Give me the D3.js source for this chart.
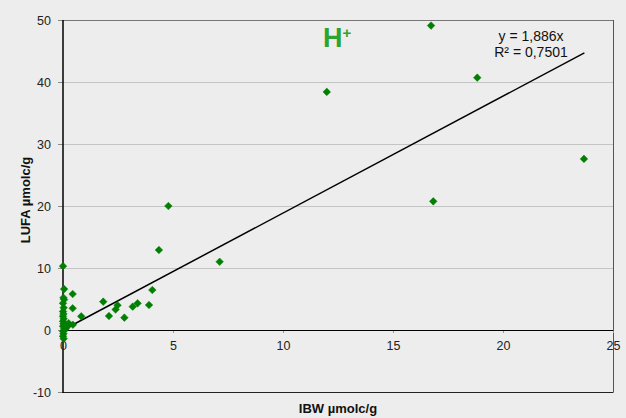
<!DOCTYPE html>
<html>
<head>
<meta charset="utf-8">
<script src="https://cdn.jsdelivr.net/npm/d3@7"></script>
<style>
  html, body { margin: 0; padding: 0; background: #ECEDEC; }
  svg { display: block; font-family: "Liberation Sans", Arial, sans-serif; }
</style>
</head>
<body>
<svg id="chart" width="626" height="418"></svg>
<script>
// ---- data ----
const ibw = [16.73, 18.83, 11.99, 23.68, 16.83, 4.79, 4.36, 7.12, 4.06, 3.91, 3.39, 3.17, 2.79, 2.09, 2.39, 2.48, 1.83, 0.83, 0.44, 0.44, 0.45,
  0.0, 0.05, 0.02, 0.05, 0.0, 0.03, 0.0, 0.02, 0.0, 0.03, 0.0, 0.02, 0.0, 0.05, 0.0, 0.02, 0.0, 0.03,
  0.10, 0.18, 0.26, 0.12];
const lufa = [49.1, 40.7, 38.4, 27.6, 20.75, 20.0, 12.9, 11.0, 6.45, 4.03, 4.3, 3.77, 1.99, 2.26, 3.3, 4.0, 4.57, 2.2, 5.8, 3.5, 0.85,
  10.3, 6.6, 5.2, 4.9, 4.3, 3.6, 3.0, 2.6, 2.2, 1.8, 1.4, 1.0, 0.6, 0.2, -0.2, -0.6, -1.0, -1.4,
  0.1, 0.5, 1.1, 0.3];
const slope = 1.886;
const lineXMax = 23.7;
const xTicks = [0, 5, 10, 15, 20, 25];
const yTicks = [-10, 0, 10, 20, 30, 40, 50];
const equationLines = ["y = 1,886x", "R² = 0,7501"];
const xTitle = "IBW µmolc/g";
const yTitle = "LUFA µmolc/g";

// ---- chart ----
const svg = d3.select("#chart");
const W = 626, H = 418;
const x = d3.scaleLinear().domain([0, 25]).range([63, 613]);
const y = d3.scaleLinear().domain([-10, 50]).range([392, 20]);
const plainFmt = d => String(d);

svg.append("rect").attr("width", W).attr("height", H).attr("fill", "#ECEDEC");

// gridlines
svg.append("g").selectAll("line").data(yTicks.filter(d => d > -10 && d < 50 && d !== 0)).join("line")
  .attr("x1", x(0)).attr("x2", x(25))
  .attr("y1", d => y(d) + 0.5).attr("y2", d => y(d) + 0.5)
  .attr("stroke", "#C4C4C4").attr("stroke-width", 1);

// frame
svg.append("line").attr("x1", x(0)).attr("x2", x(25) + 0.5).attr("y1", y(50) + 0.5).attr("y2", y(50) + 0.5)
  .attr("stroke", "#777").attr("stroke-width", 1);
svg.append("line").attr("x1", x(25) + 0.5).attr("x2", x(25) + 0.5).attr("y1", y(50)).attr("y2", y(-10))
  .attr("stroke", "#555").attr("stroke-width", 1);
svg.append("line").attr("x1", x(0)).attr("x2", x(25) + 0.5).attr("y1", y(-10) + 0.5).attr("y2", y(-10) + 0.5)
  .attr("stroke", "#222").attr("stroke-width", 1);

// y axis
const yAxis = d3.axisLeft(y).tickValues(yTicks).tickSize(5).tickPadding(7).tickFormat(plainFmt);
const gy = svg.append("g").attr("transform", `translate(${x(0)},0)`).call(yAxis);
gy.select(".domain").remove();
gy.selectAll(".tick line").attr("stroke", "#888");
gy.selectAll(".tick text").attr("font-size", 12.5).attr("fill", "#222")
  .attr("font-family", "Liberation Sans, Arial, sans-serif");
svg.append("line").attr("x1", x(0)).attr("x2", x(0)).attr("y1", y(50)).attr("y2", y(-10) + 1)
  .attr("stroke", "#000").attr("stroke-width", 1.5);

// x axis at y=0
const xAxis = d3.axisBottom(x).tickValues(xTicks).tickSize(3).tickPadding(8).tickFormat(plainFmt);
const gx = svg.append("g").attr("transform", `translate(0,${y(0)})`).call(xAxis);
gx.select(".domain").remove();
gx.selectAll(".tick line").attr("stroke", "#999");
gx.selectAll(".tick text").attr("font-size", 12.5).attr("fill", "#222")
  .attr("font-family", "Liberation Sans, Arial, sans-serif");
svg.append("line").attr("x1", x(0)).attr("x2", x(25) + 0.5).attr("y1", y(0) + 0.5).attr("y2", y(0) + 0.5)
  .attr("stroke", "#000").attr("stroke-width", 1.2);

// trend line
svg.append("line")
  .attr("x1", x(0)).attr("y1", y(0))
  .attr("x2", x(lineXMax)).attr("y2", y(slope * lineXMax))
  .attr("stroke", "#000").attr("stroke-width", 1.5);

// points
const pts = ibw.map((v, i) => ({ x: v, y: lufa[i] }));
svg.append("g").selectAll("path").data(pts).join("path")
  .attr("d", "M0,-3.8L3.8,0L0,3.8L-3.8,0Z")
  .attr("transform", d => `translate(${x(d.x)},${y(d.y)})`)
  .attr("fill", "#008000").attr("stroke", "#0a7a0a").attr("stroke-width", 0.5);

// equation
svg.append("text").attr("x", 531).attr("y", 41).attr("text-anchor", "middle")
  .attr("font-size", 14).attr("fill", "#111").text(equationLines[0]);
svg.append("text").attr("x", 531).attr("y", 57).attr("text-anchor", "middle")
  .attr("font-size", 14).attr("fill", "#111").text(equationLines[1]);

// H+ label
const h = svg.append("text").attr("x", 323).attr("y", 47)
  .attr("font-size", 27).attr("fill", "#2EA32E").attr("font-weight", "bold");
h.append("tspan").text("H");
h.append("tspan").attr("font-size", 15).attr("dy", -9).text("+");

// axis titles
svg.append("text").attr("x", 338).attr("y", 413).attr("text-anchor", "middle")
  .attr("font-size", 13).attr("font-weight", "bold").attr("fill", "#111").text(xTitle);
svg.append("text").attr("transform", "translate(30,200) rotate(-90)").attr("text-anchor", "middle")
  .attr("font-size", 13).attr("font-weight", "bold").attr("fill", "#111").text(yTitle);
</script>
</body>
</html>
